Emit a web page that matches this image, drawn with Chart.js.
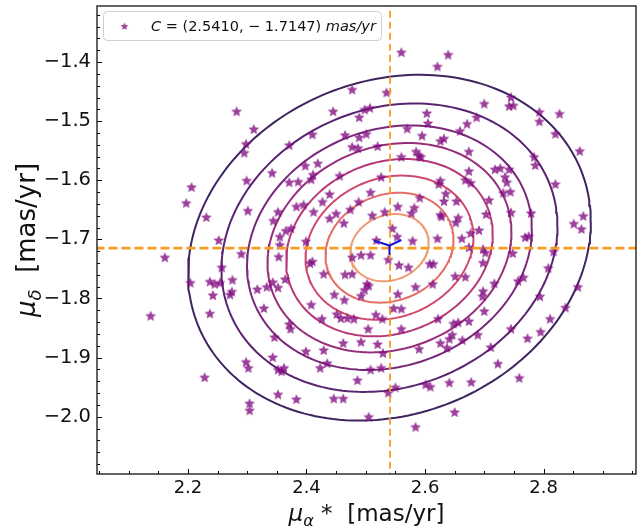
<!DOCTYPE html>
<html>
<head>
<meta charset="utf-8">
<script src="https://cdn.jsdelivr.net/npm/chart.js@4.4.1/dist/chart.umd.min.js"></script>
<style>
    body { margin: 0; background: #fff; }
    canvas { display: block; }
</style>
</head>
<body>
<canvas id="pmChart" width="643" height="532"></canvas>
<script>
// axis limits and ticks
const xMin = 2.0465, xMax = 2.956;
const yMin = -2.097, yMax = -1.305;
const xTicks = [2.2, 2.4, 2.6, 2.8];
const yTicks = [-2.0, -1.9, -1.8, -1.7, -1.6, -1.5, -1.4];
const xMinorStep = 0.05, yMinorStep = 0.02;

// cluster centre (crosshair)
const centreX = 2.5410, centreY = -1.7147;

// contour ellipses, outer to inner (half width along x)
const contourX = 2.540, contourY = -1.714;
const contourHalfWidth = [0.3398, 0.2835, 0.2404, 0.2058, 0.1743, 0.1417, 0.1080, 0.0661];
const contourAspect = 0.861;
const contourRho = 0.15;
const contourColors = ['#3f2560', '#5a2371', '#78287a', '#972e7b', '#b53877', '#d04a6e', '#e46c66', '#ef9c74'];

// blue mark at the centre
const markX = [2.514, 2.540, 2.560];
const markY = [-1.702, -1.7104, -1.701];
const stemX = [2.540, 2.540];
const stemY = [-1.7104, -1.726];

// stars
const starX = [2.560, 2.639, 2.621, 2.477, 2.535, 2.282, 2.445, 2.498, 2.507, 2.489,
    2.700, 2.745, 2.742, 2.749, 2.793, 2.827, 2.793, 2.603, 2.605, 2.570,
    2.671, 2.687, 2.659, 2.311, 2.410, 2.465, 2.489, 2.501, 2.595, 2.626,
    2.632, 2.298, 2.295, 2.371, 2.477, 2.487, 2.520, 2.585, 2.590, 2.593,
    2.674, 2.560, 2.820, 2.861, 2.784, 2.786, 2.398, 2.419, 2.342, 2.411,
    2.456, 2.674, 2.718, 2.727, 2.742, 2.735, 2.299, 2.371, 2.386, 2.408,
    2.526, 2.623, 2.626, 2.668, 2.677, 2.738, 2.820, 2.206, 2.197, 2.439,
    2.508, 2.635, 2.732, 2.744, 2.632, 2.653, 2.708, 2.427, 2.383, 2.395,
    2.488, 2.591, 2.554, 2.582, 2.301, 2.352, 2.412, 2.450, 2.474, 2.511,
    2.532, 2.577, 2.626, 2.628, 2.656, 2.703, 2.745, 2.779, 2.867, 2.231,
    2.344, 2.439, 2.463, 2.652, 2.851, 2.864, 2.691, 2.677, 2.769, 2.775,
    2.365, 2.374, 2.355, 2.399, 2.545, 2.553, 2.579, 2.621, 2.662, 2.252,
    2.518, 2.355, 2.674, 2.702, 2.698, 2.817, 2.748, 2.477, 2.492, 2.508,
    2.538, 2.353, 2.410, 2.406, 2.290, 2.161, 2.808, 2.698, 2.608, 2.614,
    2.556, 2.572, 2.257, 2.204, 2.237, 2.245, 2.242, 2.254, 2.275, 2.274,
    2.271, 2.317, 2.333, 2.343, 2.352, 2.364, 2.429, 2.465, 2.477, 2.502,
    2.505, 2.498, 2.492, 2.651, 2.668, 2.584, 2.613, 2.717, 2.757, 2.766,
    2.858, 2.698, 2.697, 2.794, 2.447, 2.464, 2.554, 2.137, 2.237, 2.328,
    2.408, 2.547, 2.560, 2.837, 2.700, 2.451, 2.458, 2.469, 2.480, 2.517,
    2.528, 2.426, 2.371, 2.373, 2.504, 2.560, 2.622, 2.648, 2.656, 2.674,
    2.811, 2.646, 2.641, 2.663, 2.689, 2.745, 2.795, 2.773, 2.346, 2.462,
    2.492, 2.520, 2.626, 2.637, 2.590, 2.711, 2.399, 2.429, 2.529, 2.343,
    2.298, 2.302, 2.352, 2.358, 2.362, 2.423, 2.435, 2.508, 2.526, 2.723,
    2.228, 2.486, 2.759, 2.641, 2.678, 2.601, 2.609, 2.550, 2.538, 2.352,
    2.383, 2.446, 2.462, 2.304, 2.304, 2.650, 2.505, 2.584];
const starY = [-1.383, -1.387, -1.407, -1.446, -1.451, -1.483, -1.483, -1.480, -1.477, -1.493,
    -1.470, -1.459, -1.474, -1.473, -1.484, -1.487, -1.500, -1.486, -1.503, -1.512,
    -1.504, -1.493, -1.516, -1.513, -1.522, -1.523, -1.527, -1.521, -1.524, -1.533,
    -1.529, -1.538, -1.553, -1.540, -1.543, -1.545, -1.542, -1.551, -1.558, -1.560,
    -1.551, -1.560, -1.521, -1.550, -1.560, -1.574, -1.575, -1.571, -1.587, -1.590,
    -1.592, -1.584, -1.581, -1.579, -1.581, -1.594, -1.600, -1.603, -1.602, -1.598,
    -1.594, -1.606, -1.600, -1.599, -1.604, -1.603, -1.606, -1.611, -1.638, -1.623,
    -1.620, -1.622, -1.621, -1.619, -1.635, -1.635, -1.633, -1.636, -1.644, -1.641,
    -1.636, -1.629, -1.644, -1.646, -1.651, -1.653, -1.653, -1.656, -1.649, -1.659,
    -1.653, -1.655, -1.658, -1.661, -1.663, -1.657, -1.654, -1.655, -1.660, -1.662,
    -1.668, -1.664, -1.672, -1.671, -1.673, -1.682, -1.684, -1.689, -1.696, -1.694,
    -1.685, -1.681, -1.695, -1.703, -1.681, -1.695, -1.702, -1.698, -1.698, -1.701,
    -1.701, -1.709, -1.713, -1.722, -1.716, -1.720, -1.723, -1.730, -1.726, -1.726,
    -1.734, -1.729, -1.737, -1.740, -1.724, -1.730, -1.748, -1.739, -1.741, -1.741,
    -1.743, -1.747, -1.747, -1.773, -1.771, -1.775, -1.794, -1.773, -1.768, -1.788,
    -1.793, -1.784, -1.780, -1.772, -1.781, -1.767, -1.758, -1.759, -1.758, -1.775,
    -1.778, -1.785, -1.795, -1.762, -1.763, -1.780, -1.775, -1.774, -1.770, -1.764,
    -1.780, -1.787, -1.796, -1.796, -1.793, -1.802, -1.792, -1.829, -1.825, -1.816,
    -1.810, -1.816, -1.817, -1.815, -1.821, -1.826, -1.833, -1.833, -1.834, -1.827,
    -1.834, -1.834, -1.843, -1.851, -1.851, -1.851, -1.834, -1.842, -1.840, -1.838,
    -1.834, -1.861, -1.868, -1.870, -1.861, -1.851, -1.856, -1.867, -1.865, -1.875,
    -1.873, -1.877, -1.875, -1.883, -1.885, -1.882, -1.889, -1.887, -1.892, -1.899,
    -1.907, -1.917, -1.920, -1.923, -1.917, -1.917, -1.909, -1.920, -1.917, -1.910,
    -1.933, -1.938, -1.934, -1.942, -1.941, -1.945, -1.949, -1.950, -1.959, -1.962,
    -1.970, -1.969, -1.969, -1.977, -1.989, -1.992, -2.000, -2.017];

const starColor = 'rgba(128, 10, 128, 0.78)';
const dashColor = '#f59d22';
const FONT = '"DejaVu Sans", sans-serif';

function makeStar(r, color) {
    const c = document.createElement('canvas');
    const s = Math.ceil(r * 2 + 2);
    c.width = s;
    c.height = s;
    const g = c.getContext('2d');
    g.fillStyle = color;
    g.beginPath();
    for (let i = 0; i < 10; i++) {
        const rr = i % 2 === 0 ? r : r * 0.46;
        const a = -Math.PI / 2 + i * Math.PI / 5;
        const px = s / 2 + rr * Math.cos(a), py = s / 2 + 0.6 + rr * Math.sin(a);
        if (i === 0) g.moveTo(px, py); else g.lineTo(px, py);
    }
    g.closePath();
    g.fill();
    return c;
}

const starImg = makeStar(5.6, starColor);
const legendStar = makeStar(4, starColor);

function ellipsePoints(halfWidth) {
    const pts = [];
    const hy = halfWidth * contourAspect;
    const k = Math.sqrt(1 - contourRho * contourRho);
    for (let i = 0; i <= 200; i++) {
        const t = i / 200 * 2 * Math.PI;
        pts.push({
            x: contourX + halfWidth * Math.cos(t),
            y: contourY + hy * (contourRho * Math.cos(t) + k * Math.sin(t))
        });
    }
    return pts;
}

const datasets = [];

contourHalfWidth.forEach((w, i) => {
    datasets.push({
        data: ellipsePoints(w),
        showLine: true,
        borderColor: contourColors[i],
        borderWidth: 2,
        pointRadius: 0,
        fill: false,
        order: 4
    });
});

datasets.push({
    data: starX.map((x, i) => ({x: x, y: starY[i]})),
    pointStyle: starImg,
    pointRadius: 5,
    order: 3
});

datasets.push({
    data: [{x: 2.0, y: centreY}, {x: 3.0, y: centreY}],
    showLine: true,
    borderColor: dashColor,
    borderWidth: 2.6,
    borderDash: [9, 4],
    pointRadius: 0,
    order: 2
});
datasets.push({
    data: [{x: centreX, y: -2.2}, {x: centreX, y: -1.2}],
    showLine: true,
    borderColor: dashColor,
    borderWidth: 1.8,
    borderDash: [7, 4],
    pointRadius: 0,
    order: 2
});

datasets.push({
    data: markX.map((x, i) => ({x: x, y: markY[i]})),
    showLine: true,
    borderColor: '#1010e0',
    borderWidth: 2,
    pointRadius: 0,
    order: 1
});
datasets.push({
    data: stemX.map((x, i) => ({x: x, y: stemY[i]})),
    showLine: true,
    borderColor: '#1010e0',
    borderWidth: 2,
    pointRadius: 0,
    order: 1
});

function runsWidth(ctx, runs, size) {
    let w = 0;
    runs.forEach(r => {
        ctx.font = (r.italic ? 'italic ' : '') + (r.sub ? size * 0.7 : size) + 'px ' + FONT;
        w += ctx.measureText(r.t).width;
    });
    return w;
}

function drawRuns(ctx, runs, x, y, size) {
    let cx = x;
    runs.forEach(r => {
        ctx.font = (r.italic ? 'italic ' : '') + (r.sub ? size * 0.7 : size) + 'px ' + FONT;
        ctx.fillText(r.t, cx, y + (r.sub ? size * 0.22 : 0));
        cx += ctx.measureText(r.t).width;
    });
}

const xTitle = [{t: 'μ', italic: true}, {t: 'α', italic: true, sub: true}, {t: ' *  [mas/yr]'}];
const yTitle = [{t: 'μ', italic: true}, {t: 'δ', italic: true, sub: true}, {t: '  [mas/yr]'}];
const legendRuns = [{t: 'C', italic: true}, {t: ' = (2.5410, − 1.7147) '}, {t: 'mas/yr', italic: true}];

const decorPlugin = {
    id: 'decor',
    beforeDraw(chart) {
        const ctx = chart.ctx;
        ctx.save();
        ctx.fillStyle = '#fff';
        ctx.fillRect(0, 0, chart.width, chart.height);
        ctx.restore();
    },
    afterDraw(chart) {
        const ctx = chart.ctx;
        const a = chart.chartArea;
        const xs = chart.scales.x, ys = chart.scales.y;
        ctx.save();

        // inward ticks
        ctx.strokeStyle = '#000';
        ctx.lineWidth = 1;
        ctx.beginPath();
        for (let v = Math.ceil(xMin / xMinorStep) * xMinorStep; v < xMax; v += xMinorStep) {
            const px = Math.round(xs.getPixelForValue(v)) + 0.5;
            const major = xTicks.some(t => Math.abs(t - v) < 1e-6);
            ctx.moveTo(px, a.bottom);
            ctx.lineTo(px, a.bottom - (major ? 5 : 3));
        }
        for (let v = Math.ceil(yMin / yMinorStep) * yMinorStep; v < yMax; v += yMinorStep) {
            const py = Math.round(ys.getPixelForValue(v)) + 0.5;
            const major = yTicks.some(t => Math.abs(t - v) < 1e-6);
            ctx.moveTo(a.left, py);
            ctx.lineTo(a.left + (major ? 5 : 3), py);
        }
        ctx.stroke();

        // frame
        ctx.strokeStyle = '#222';
        ctx.lineWidth = 1.4;
        ctx.strokeRect(a.left, a.top, a.right - a.left, a.bottom - a.top);

        // legend
        const lx = 103.5, ly = 11.5, lw = 278, lh = 29;
        ctx.fillStyle = 'rgba(255,255,255,0.85)';
        ctx.strokeStyle = '#d0d0d0';
        ctx.lineWidth = 1;
        ctx.beginPath();
        ctx.roundRect(lx, ly, lw, lh, 4);
        ctx.fill();
        ctx.stroke();
        ctx.drawImage(legendStar, 124.5 - legendStar.width / 2, 26 - legendStar.height / 2);
        ctx.fillStyle = '#111';
        ctx.textBaseline = 'alphabetic';
        drawRuns(ctx, legendRuns, 151, 31, 14.5);

        // axis titles
        const xw = runsWidth(ctx, xTitle, 23);
        drawRuns(ctx, xTitle, (a.left + a.right) / 2 - xw / 2, 521, 23);
        ctx.translate(35, (a.top + a.bottom) / 2);
        ctx.rotate(-Math.PI / 2);
        const yw = runsWidth(ctx, yTitle, 26);
        drawRuns(ctx, yTitle, -yw / 2, 0, 26);
        ctx.restore();
    }
};

const fmt = v => (v < 0 ? '−' : '') + Math.abs(v).toFixed(1);

new Chart(document.getElementById('pmChart').getContext('2d'), {
    type: 'scatter',
    data: {datasets: datasets},
    options: {
        responsive: false,
        animation: false,
        events: [],
        layout: {padding: {top: 5, right: 7, left: 0, bottom: 0}},
        plugins: {legend: {display: false}, tooltip: {enabled: false}},
        scales: {
            x: {
                type: 'linear',
                min: xMin,
                max: xMax,
                afterBuildTicks: s => { s.ticks = xTicks.map(v => ({value: v})); },
                afterFit: s => { s.height = 58; s.paddingLeft = 0; s.paddingRight = 0; },
                grid: {display: false, drawTicks: false},
                border: {display: false},
                ticks: {color: '#111', font: {family: FONT, size: 18}, padding: 4, callback: fmt, maxRotation: 0}
            },
            y: {
                type: 'linear',
                min: yMin,
                max: yMax,
                afterBuildTicks: s => { s.ticks = yTicks.map(v => ({value: v})); },
                afterFit: s => { s.width = 97; s.paddingTop = 0; s.paddingBottom = 0; },
                grid: {display: false, drawTicks: false},
                border: {display: false},
                ticks: {color: '#111', font: {family: FONT, size: 19.5}, padding: 6, callback: fmt}
            }
        }
    },
    plugins: [decorPlugin]
});
</script>
</body>
</html>
